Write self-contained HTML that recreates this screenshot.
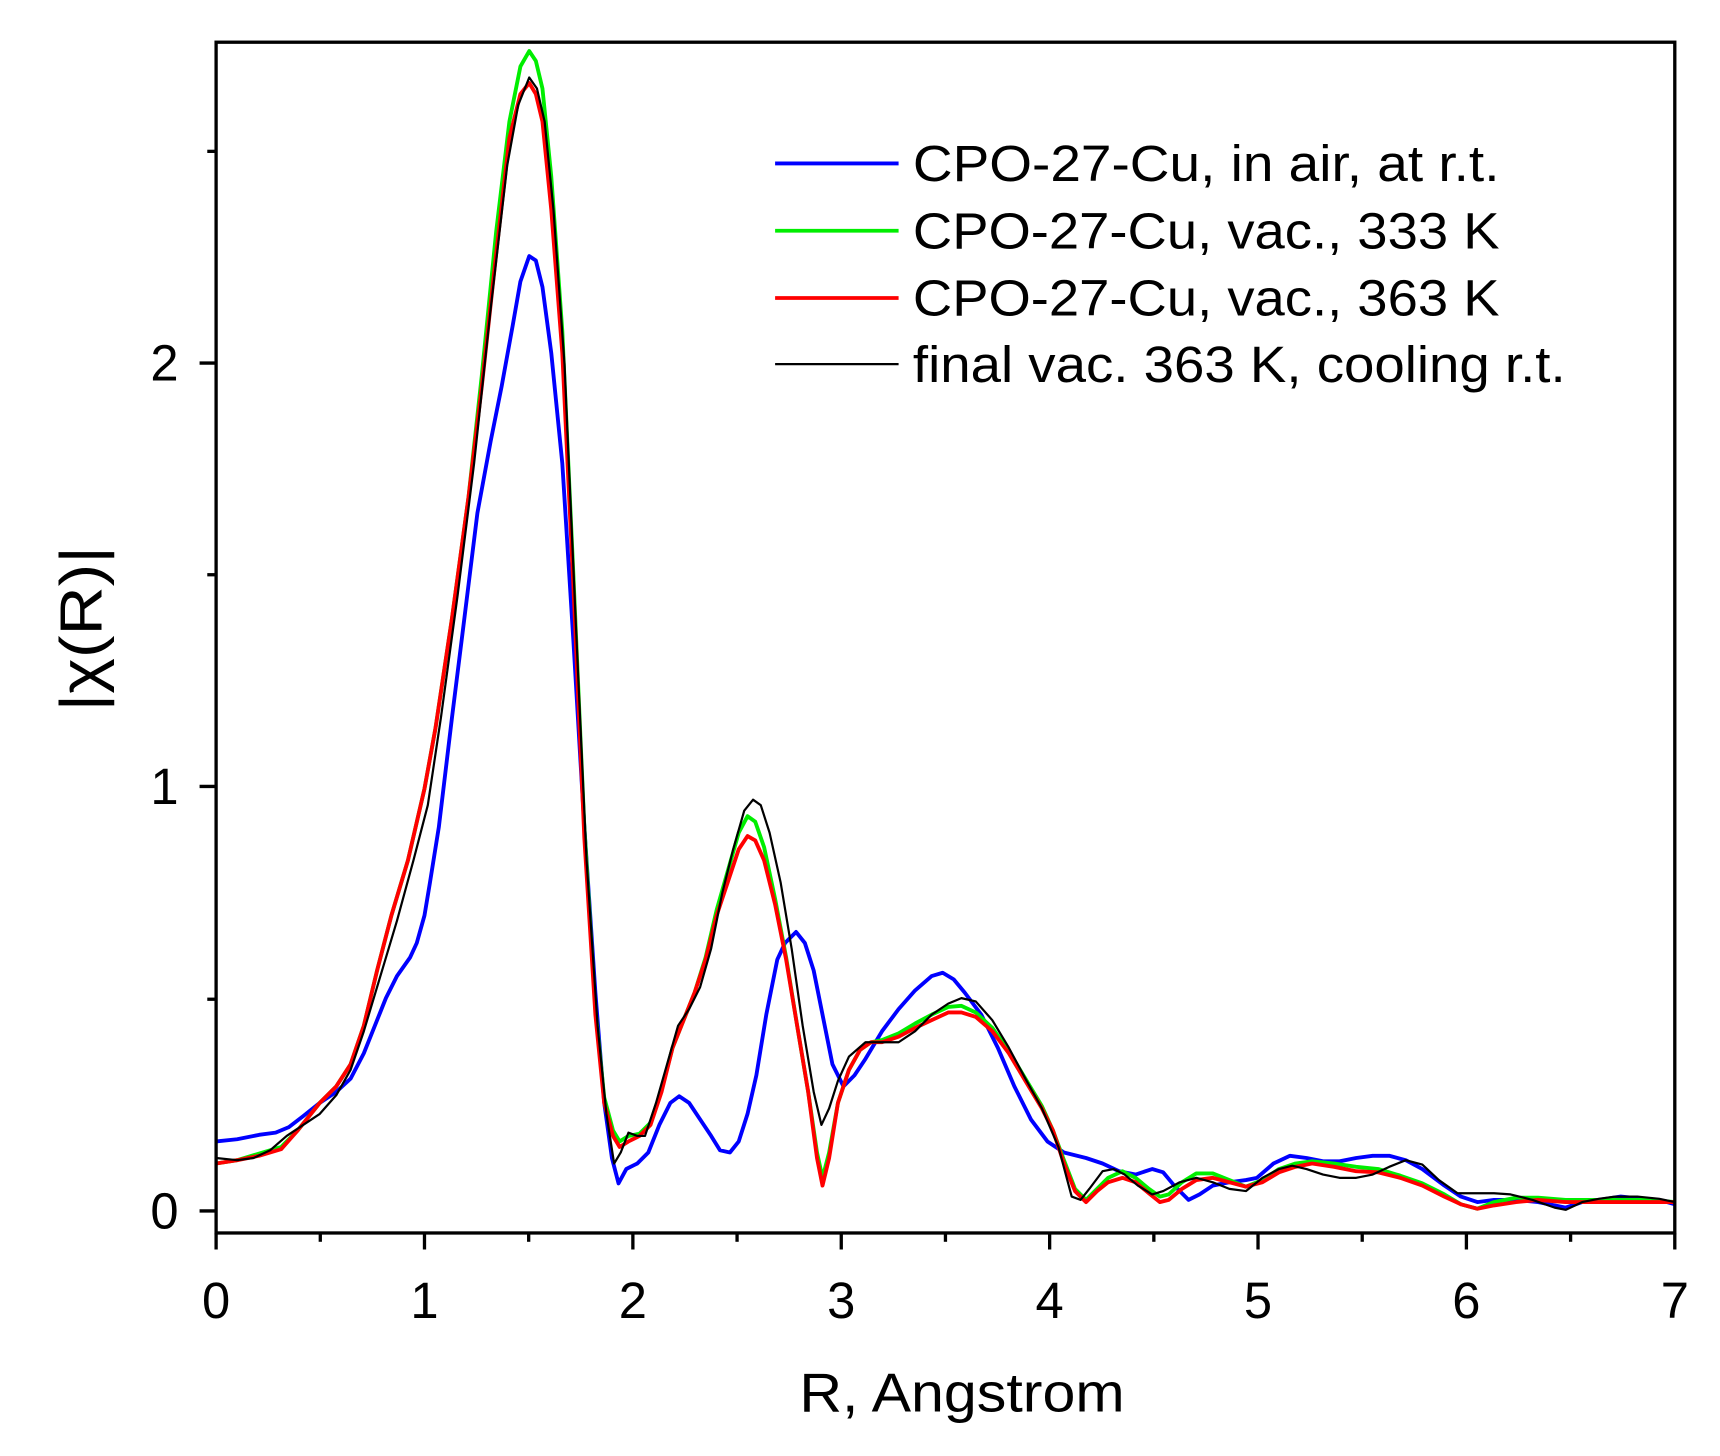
<!DOCTYPE html>
<html><head><meta charset="utf-8"><style>html,body{margin:0;padding:0;background:#fff}svg{display:block}</style></head>
<body>
<svg width="1720" height="1456" viewBox="0 0 1560 1320" xmlns="http://www.w3.org/2000/svg" font-family="Liberation Sans, sans-serif">
<rect width="1560" height="1320" fill="#fff"/>
<defs><clipPath id="c"><rect x="196" y="38" width="1323" height="1080"/></clipPath></defs>
<g clip-path="url(#c)" fill="none" stroke-linejoin="round">
<polyline stroke="#0000ff" stroke-width="3.5" points="196,1035 215,1033 235,1029 250,1027 262,1022 275,1012 290,1000 305,990 318,978 330,955 340,930 350,905 360,885 372,868 378,855 385,830 390,800 398,750 410,650 420,570 433,465 445,400 455,350 465,295 472,255 480,232 486,236 492,260 500,320 510,420 520,580 530,750 540,900 548,1000 555,1050 561,1073 568,1060 578,1055 588,1045 598,1020 608,1000 616,994 625,1000 635,1015 645,1030 653,1043 662,1045 670,1035 678,1010 686,975 695,920 705,870 712,855 722,845 730,855 738,880 746,920 755,965 765,985 775,975 785,960 800,935 815,915 830,898 845,885 855,882 865,888 875,900 890,920 905,950 920,985 935,1015 950,1035 965,1045 985,1050 1000,1055 1015,1062 1030,1065 1045,1060 1055,1063 1065,1075 1078,1088 1088,1083 1100,1075 1115,1072 1130,1070 1140,1068 1155,1055 1170,1048 1185,1050 1200,1053 1215,1053 1230,1050 1245,1048 1260,1048 1275,1052 1290,1060 1310,1075 1325,1085 1340,1090 1355,1088 1375,1088 1395,1090 1410,1093 1420,1095 1435,1090 1450,1088 1470,1085 1490,1087 1505,1088 1519,1092"/>
<polyline stroke="#00ee00" stroke-width="3.5" points="196,1055 215,1052 235,1046 255,1040 270,1025 290,1000 305,985 318,965 330,930 342,880 355,830 370,780 385,715 395,660 410,560 425,450 437,340 450,210 462,110 472,60 480,46 486,55 492,80 500,160 510,300 520,520 530,750 540,915 548,995 556,1025 562,1035 570,1030 580,1028 590,1018 600,988 610,950 620,925 630,900 640,868 650,825 660,790 670,755 678,740 685,745 693,768 703,815 713,868 723,930 733,990 741,1045 746,1068 752,1045 760,1000 770,970 780,952 790,945 800,943 815,937 830,928 845,920 860,913 872,912 885,918 900,932 915,953 930,978 945,1003 955,1025 965,1052 975,1078 985,1088 995,1078 1005,1068 1018,1062 1030,1068 1042,1078 1052,1085 1060,1083 1072,1072 1085,1064 1100,1064 1115,1070 1130,1076 1145,1070 1160,1060 1175,1055 1190,1053 1210,1055 1230,1058 1250,1060 1270,1066 1290,1073 1310,1083 1325,1092 1340,1096 1355,1090 1375,1086 1395,1086 1420,1088 1445,1088 1470,1088 1495,1088 1519,1090"/>
<polyline stroke="#ff0000" stroke-width="3.5" points="196,1055 215,1052 235,1048 255,1042 270,1025 290,1000 305,985 318,965 330,930 342,880 355,830 370,780 385,715 395,660 410,560 425,450 437,350 450,230 462,125 472,85 480,75 486,85 492,110 500,190 510,320 520,530 530,760 540,920 548,1000 556,1030 562,1040 570,1035 580,1030 590,1020 600,990 610,950 620,925 630,900 640,870 650,830 660,800 670,770 678,758 685,762 693,780 703,820 713,870 723,930 733,990 741,1050 746,1075 752,1050 760,1000 770,970 780,952 790,945 800,945 815,940 830,932 845,925 860,918 872,918 885,922 900,935 915,955 930,980 945,1005 955,1025 965,1055 975,1080 985,1090 995,1080 1005,1072 1018,1068 1030,1072 1042,1082 1052,1090 1060,1088 1072,1078 1085,1070 1100,1068 1115,1072 1130,1076 1145,1072 1160,1063 1175,1058 1190,1055 1210,1058 1230,1062 1250,1063 1270,1068 1290,1075 1310,1085 1325,1092 1340,1096 1355,1093 1375,1090 1395,1088 1420,1090 1445,1090 1470,1090 1495,1090 1519,1090"/>
<polyline stroke="#000" stroke-width="2" points="196,1050 215,1052 230,1050 245,1043 260,1030 275,1020 290,1010 305,993 318,970 330,935 345,885 360,835 375,780 388,730 400,650 415,540 430,420 445,280 460,150 470,95 480,70 487,80 494,110 502,190 512,330 522,560 532,780 542,930 550,1010 557,1055 563,1045 570,1027 578,1030 585,1030 595,1000 605,965 615,930 625,915 635,895 645,860 655,810 665,770 675,735 683,725 690,730 698,755 708,800 718,860 728,930 738,990 745,1020 752,1005 760,980 770,958 785,945 800,945 815,945 830,935 845,920 860,910 872,905 885,908 900,925 915,950 930,978 945,1005 960,1040 972,1085 980,1088 988,1078 1000,1062 1010,1060 1020,1065 1032,1075 1045,1083 1055,1080 1070,1072 1085,1068 1100,1072 1115,1078 1130,1080 1145,1068 1160,1060 1172,1057 1185,1060 1200,1065 1215,1068 1230,1068 1245,1065 1260,1058 1275,1052 1290,1056 1305,1070 1322,1082 1340,1082 1355,1082 1370,1083 1390,1088 1410,1095 1420,1097 1435,1090 1450,1087 1465,1085 1485,1085 1505,1087 1519,1090"/>
</g>
<rect x="196" y="38" width="1323" height="1080" fill="none" stroke="#000" stroke-width="3"/>
<g stroke="#000" stroke-width="3">
<line x1="196" y1="1118" x2="196" y2="1133"/><line x1="385" y1="1118" x2="385" y2="1133"/><line x1="574" y1="1118" x2="574" y2="1133"/><line x1="763" y1="1118" x2="763" y2="1133"/><line x1="952" y1="1118" x2="952" y2="1133"/><line x1="1141" y1="1118" x2="1141" y2="1133"/><line x1="1330" y1="1118" x2="1330" y2="1133"/><line x1="1519" y1="1118" x2="1519" y2="1133"/>
<line x1="290.5" y1="1118" x2="290.5" y2="1126"/><line x1="479.5" y1="1118" x2="479.5" y2="1126"/><line x1="668.5" y1="1118" x2="668.5" y2="1126"/><line x1="857.5" y1="1118" x2="857.5" y2="1126"/><line x1="1046.5" y1="1118" x2="1046.5" y2="1126"/><line x1="1235.5" y1="1118" x2="1235.5" y2="1126"/><line x1="1424.5" y1="1118" x2="1424.5" y2="1126"/>
<line x1="181" y1="1098" x2="196" y2="1098"/><line x1="181" y1="713" x2="196" y2="713"/><line x1="181" y1="329" x2="196" y2="329"/>
<line x1="188" y1="906" x2="196" y2="906"/><line x1="188" y1="521" x2="196" y2="521"/><line x1="188" y1="137" x2="196" y2="137"/>
</g>
<g font-size="46" text-anchor="middle" fill="#000">
<text x="196" y="1195">0</text><text x="385" y="1195">1</text><text x="574" y="1195">2</text><text x="763" y="1195">3</text><text x="952" y="1195">4</text><text x="1141" y="1195">5</text><text x="1330" y="1195">6</text><text x="1519" y="1195">7</text>
</g>
<g font-size="46" text-anchor="end" fill="#000">
<text x="162" y="1114">0</text><text x="162" y="729">1</text><text x="162" y="345">2</text>
</g>
<text x="725" y="1280" font-size="50" textLength="295" lengthAdjust="spacingAndGlyphs">R, Angstrom</text>
<text transform="translate(92,645) rotate(-90)" font-size="54" textLength="150" lengthAdjust="spacingAndGlyphs">|χ(R)|</text>
<g stroke-width="3.5">
<line x1="703" y1="148" x2="815" y2="148" stroke="#0000ff"/>
<line x1="703" y1="209" x2="815" y2="209" stroke="#00ee00"/>
<line x1="703" y1="270" x2="815" y2="270" stroke="#ff0000"/>
<line x1="703" y1="330" x2="815" y2="330" stroke="#000" stroke-width="2"/>
</g>
<g font-size="46" fill="#000" lengthAdjust="spacingAndGlyphs">
<text x="828" y="164" textLength="532" lengthAdjust="spacingAndGlyphs">CPO-27-Cu, in air, at r.t.</text>
<text x="828" y="225" textLength="532" lengthAdjust="spacingAndGlyphs">CPO-27-Cu, vac., 333 K</text>
<text x="828" y="286" textLength="532" lengthAdjust="spacingAndGlyphs">CPO-27-Cu, vac., 363 K</text>
<text x="828" y="346" textLength="592" lengthAdjust="spacingAndGlyphs">final vac. 363 K, cooling r.t.</text>
</g>
</svg>
</body></html>
